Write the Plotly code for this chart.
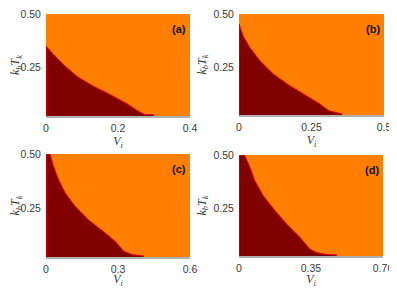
import plotly.graph_objects as go

# Boundary (critical V_i vs k_b T_k)
Va = [0.0, 0.0, 0.020, 0.048, 0.0855, 0.132, 0.179, 0.225, 0.253, 0.272, 0.300]
Ta = [0.02, 0.351, 0.312, 0.265, 0.210, 0.163, 0.124, 0.082, 0.051, 0.033, 0.030]
Vb = [0.0, 0.0, 0.0139, 0.037, 0.0714, 0.118, 0.175, 0.233, 0.279, 0.308, 0.337, 0.355]
Tb = [0.02, 0.453, 0.398, 0.343, 0.281, 0.218, 0.163, 0.116, 0.077, 0.046, 0.035, 0.030]
Vc = [0.0, 0.0, 0.0167, 0.0306, 0.0515, 0.0796, 0.121, 0.177, 0.240, 0.289, 0.324, 0.359, 0.407]
Tc = [0.02, 0.5, 0.5, 0.446, 0.383, 0.321, 0.259, 0.196, 0.142, 0.096, 0.052, 0.036, 0.030]
Vd = [0.0, 0.0, 0.0274, 0.052, 0.076, 0.117, 0.174, 0.231, 0.296, 0.345, 0.378, 0.418, 0.475]
Td = [0.02, 0.5, 0.5, 0.445, 0.381, 0.310, 0.239, 0.176, 0.113, 0.057, 0.041, 0.033, 0.030]

panels = ["(a)", "(b)", "(c)", "(d)"]
xmax = [0.4, 0.5, 0.6, 0.70]
xtickvals = [[0, 0.2, 0.4], [0, 0.25, 0.5], [0, 0.3, 0.6], [0, 0.35, 0.70]]
xticktext = [["0", "0.2", "0.4"], ["0", "0.25", "0.5"], ["0", "0.3", "0.6"], ["0", "0.35", "0.70"]]
ytickvals = [0.25, 0.5]
yticktext = ["0.25", "0.50"]
yrange = [0.025, 0.5]

DARK = "#800000"
ORANGE = "#ff8000"
RED = "#e8001c"

# page has an 8px body margin; figure is sized so the page does not scroll
W, H = 389, 280
xdom = [[0.0977, 0.4679], [0.5938, 0.9666], [0.0977, 0.4679], [0.5938, 0.9640]]
ydom = [[0.6143, 0.9786], [0.6179, 0.9786], [0.1107, 0.4786], [0.1143, 0.4750]]
standoffs = [1, 1, 3, 3]

fig = go.Figure()
data = [(Va, Ta), (Vb, Tb), (Vc, Tc), (Vd, Td)]
tickfont = dict(family="Liberation Sans, Arial, sans-serif", size=10.5, color="#3a3a3a")
titlefont = dict(family="Liberation Serif, Times New Roman, serif", size=12, color="#3a3a3a")

for i, (V, T) in enumerate(data):
    n = "" if i == 0 else str(i + 1)
    fig.add_trace(go.Scatter(
        x=V, y=T, mode="lines", fill="tozeroy", fillcolor=DARK,
        line=dict(color=RED, width=1), xaxis="x" + n, yaxis="y" + n,
        showlegend=False, hoverinfo="skip"))
    fig.layout["xaxis" + n] = dict(
        domain=xdom[i], range=[0, xmax[i]], anchor="y" + n, automargin=False,
        tickvals=xtickvals[i], ticktext=xticktext[i], tickfont=tickfont,
        ticklabeloverflow="allow",
        showgrid=False, zeroline=False, showline=True, linecolor="#b0b0b0",
        linewidth=1.5, ticks="outside", ticklen=2, tickcolor="rgba(0,0,0,0)",
        title=dict(text="<i>V</i><sub><i>i</i></sub>", font=titlefont, standoff=standoffs[i]))
    fig.layout["yaxis" + n] = dict(
        domain=ydom[i], range=yrange, anchor="x" + n, automargin=False,
        tickvals=ytickvals, ticktext=yticktext, tickfont=tickfont,
        ticklabeloverflow="allow",
        showgrid=False, zeroline=False, showline=False,
        ticks="outside", ticklen=2, tickcolor="rgba(0,0,0,0)",
        title=dict(text="<i>k</i><sub><i>b</i></sub><i>T</i><sub><i>k</i></sub>",
                   font=titlefont, standoff=4))
    fig.add_annotation(
        text="<b>" + panels[i] + "</b>", xref="x" + n + " domain", yref="y" + n + " domain",
        x=0.985, y=0.93, xanchor="right", yanchor="top", showarrow=False,
        font=dict(family="Liberation Sans, Arial, sans-serif", size=11, color="#111111"))

fig.update_layout(
    width=W, height=H, margin=dict(l=0, r=0, t=0, b=0),
    paper_bgcolor="white", plot_bgcolor=ORANGE,
)
fig.write_html("out.html")
